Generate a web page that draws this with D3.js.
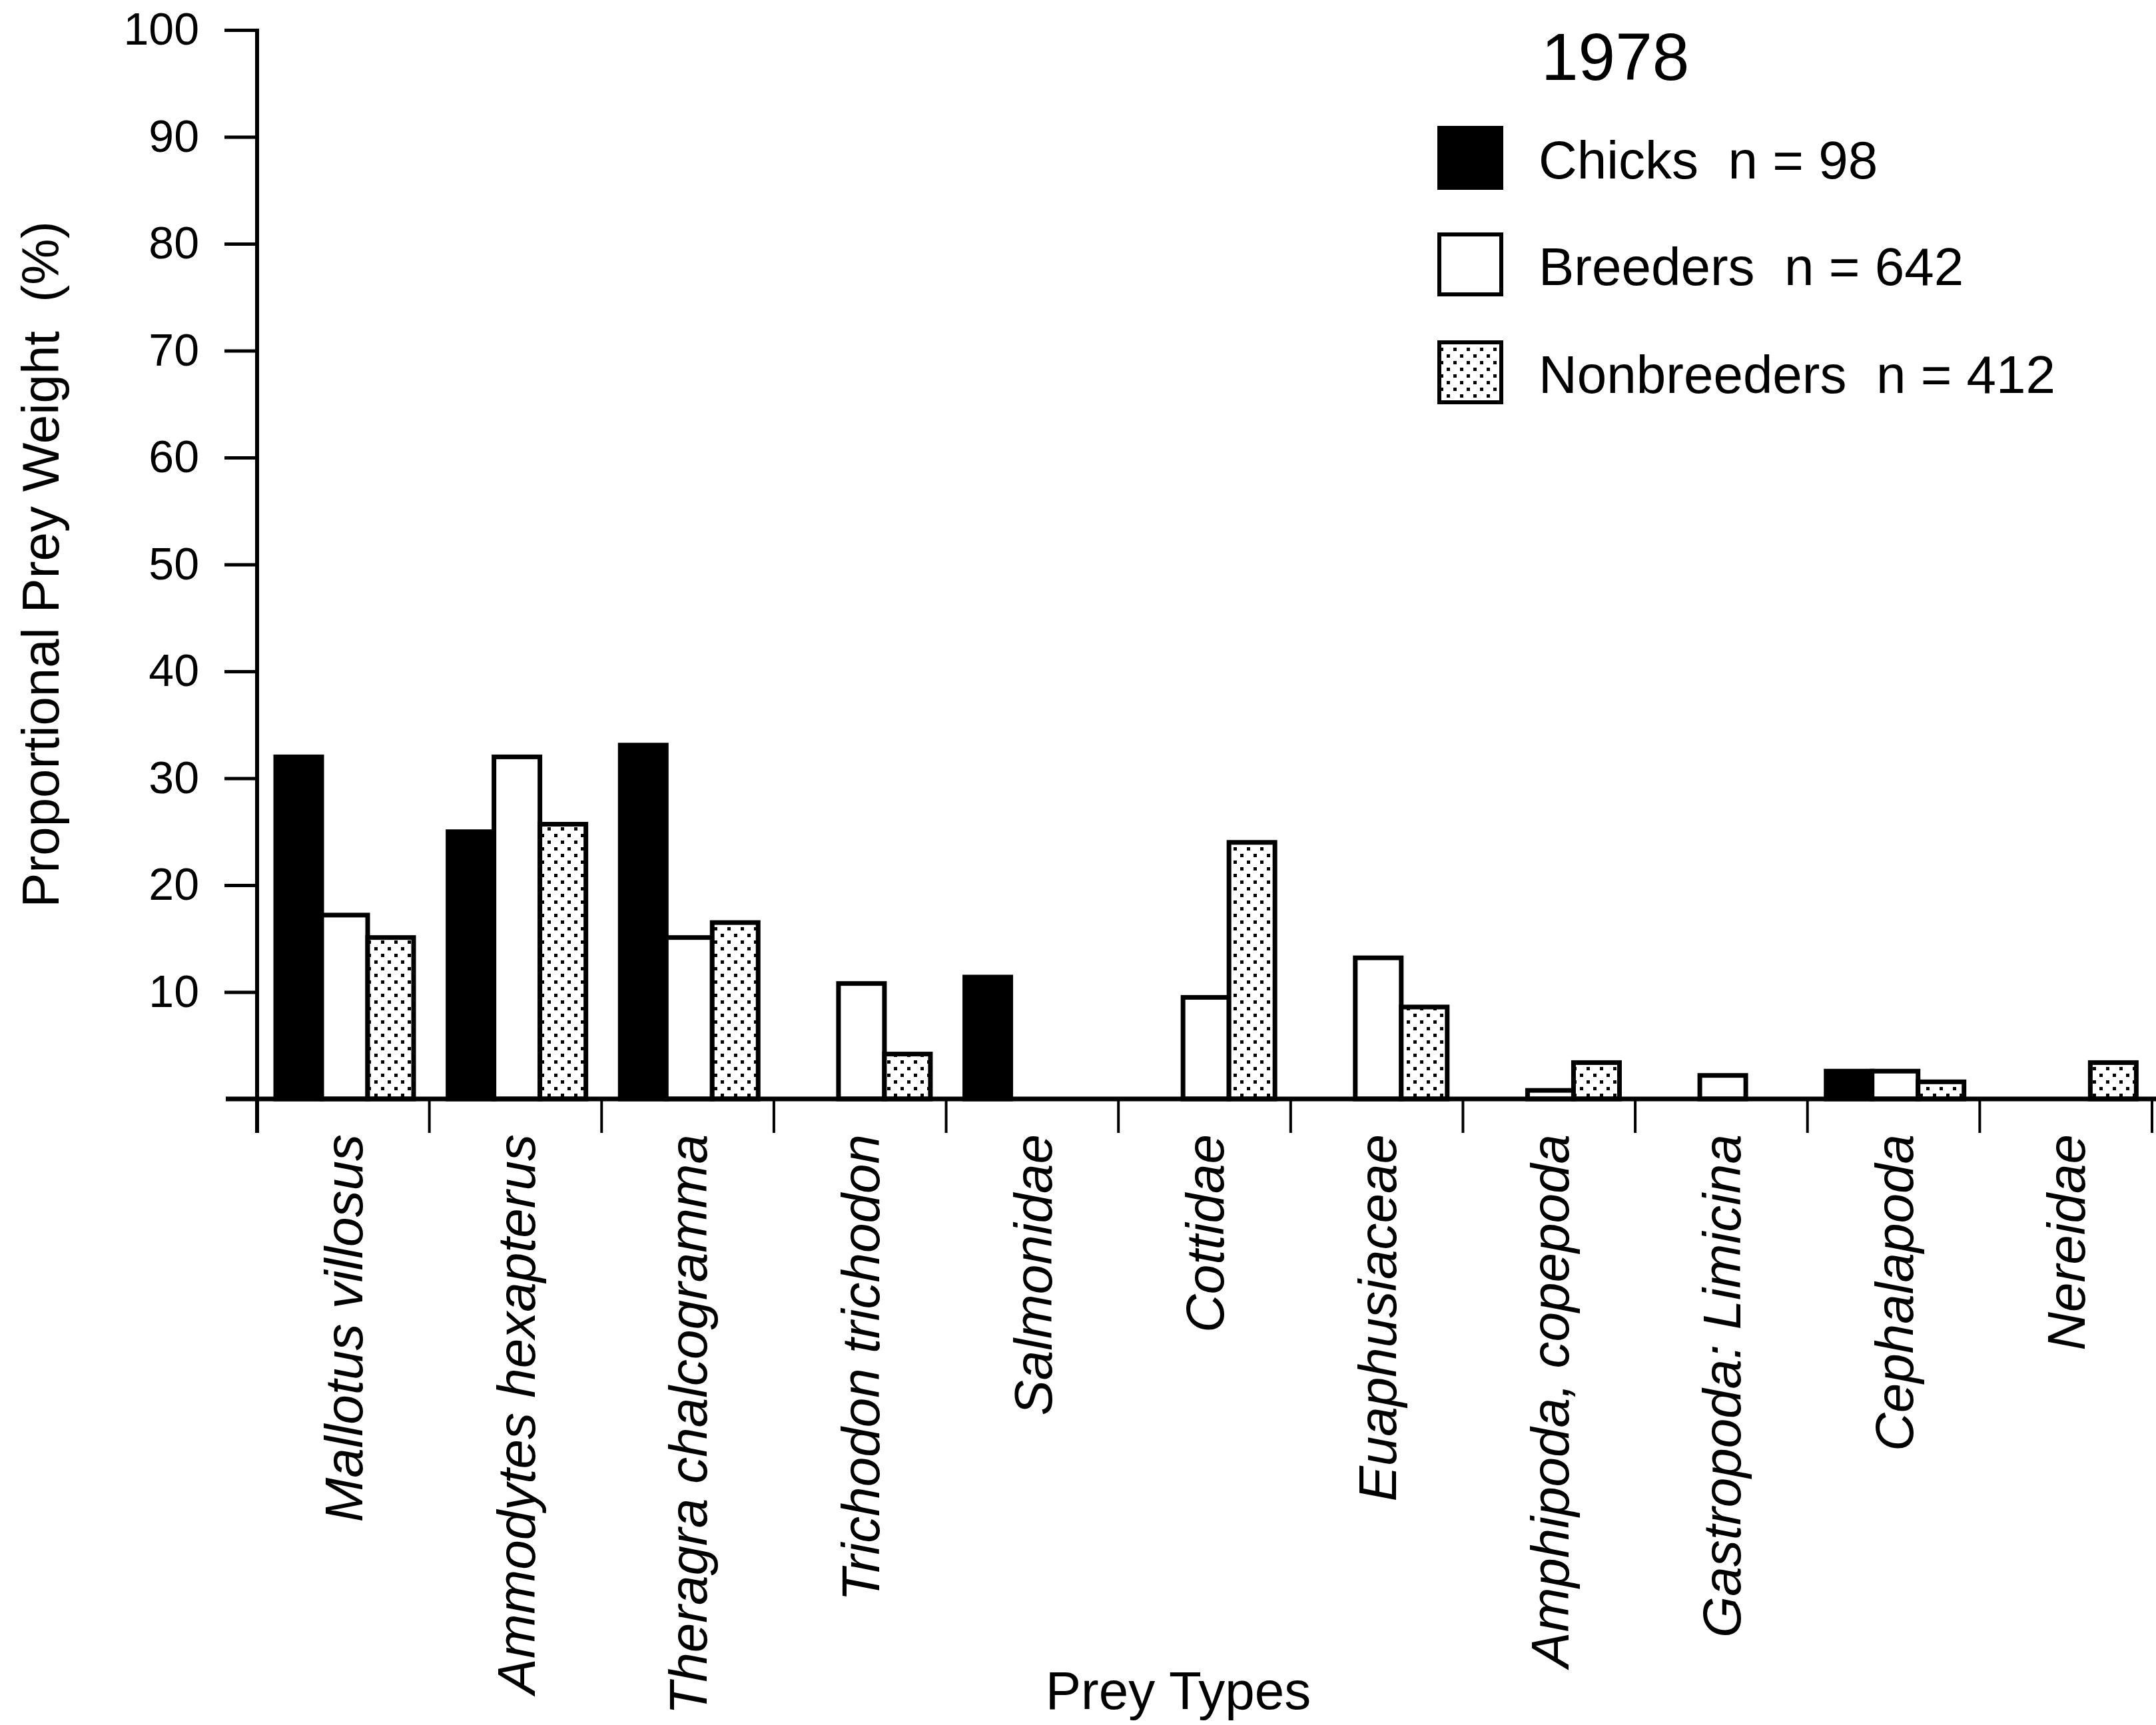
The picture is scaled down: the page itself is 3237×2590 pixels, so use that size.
<!DOCTYPE html>
<html lang="en">
<head>
<meta charset="UTF-8">
<title>Prey weight 1978</title>
<script src="https://cdn.jsdelivr.net/npm/d3@7/dist/d3.min.js"></script>
<style>
    body { margin: 0; background: #fff; }
    text { font-family: "Liberation Sans", Arial, Helvetica, sans-serif; fill: #000; }
</style>
</head>
<body>
<svg id="chart"></svg>
<script>
    const categories = ["Mallotus villosus", "Ammodytes hexapterus", "Theragra chalcogramma",
        "Trichodon trichodon", "Salmonidae", "Cottidae", "Euaphusiaceae", "Amphipoda, copepoda",
        "Gastropoda: Limicina", "Cephalapoda", "Nereidae"];
    const seriesNames = ["Chicks", "Breeders", "Nonbreeders"];
    const seriesCounts = [98, 642, 412];
    const chicks = [32, 25, 33.1, 0, 11.4, 0, 0, 0, 0, 2.6, 0];
    const breeders = [17.2, 32, 15.1, 10.8, 0, 9.5, 13.2, 0.8, 2.2, 2.6, 0];
    const nonbreeders = [15.1, 25.7, 16.5, 4.2, 0, 24, 8.6, 3.4, 0, 1.6, 3.4];
    const yTicks = [10, 20, 30, 40, 50, 60, 70, 80, 90, 100];
    const yearLabel = "1978";

    const W = 3237, H = 2590;
    const svg = d3.select("#chart").attr("width", W).attr("height", H);

    // stipple pattern for nonbreeders
    const defs = svg.append("defs");
    const pat = defs.append("pattern").attr("id", "dots")
        .attr("patternUnits", "userSpaceOnUse").attr("width", 20).attr("height", 20);
    pat.append("rect").attr("width", 20).attr("height", 20).attr("fill", "#fff");
    pat.append("rect").attr("x", 2).attr("y", 2).attr("width", 5).attr("height", 5).attr("fill", "#000");
    pat.append("rect").attr("x", 12).attr("y", 12).attr("width", 5).attr("height", 5).attr("fill", "#000");

    const fills = ["#000", "#fff", "url(#dots)"];
    const values = [chicks, breeders, nonbreeders];

    const x = d3.scaleBand().domain(categories).range([386, 3231]).padding(0);
    const xs = d3.scaleBand().domain(seriesNames).range([28, 28 + 207]).padding(0);
    const y = d3.scaleLinear().domain([0, 100]).range([1650, 45]);

    // y axis
    const yAxis = svg.append("g").attr("transform", "translate(386,0)")
        .call(d3.axisLeft(y).tickValues(yTicks).tickSize(49).tickPadding(38));
    yAxis.select(".domain").remove();
    yAxis.selectAll(".tick line").attr("stroke", "#000").attr("stroke-width", 5);
    yAxis.selectAll(".tick text").attr("font-size", 68)
        .style("font-family", "'Liberation Sans', Arial, sans-serif");
    svg.append("line").attr("x1", 386).attr("x2", 386)
        .attr("y1", y(100) - 2).attr("y2", y(0) + 51)
        .attr("stroke", "#000").attr("stroke-width", 6);

    svg.append("text")
        .attr("transform", "translate(88," + (y(0) + y(100)) / 2 + ") rotate(-90)")
        .attr("text-anchor", "middle").attr("font-size", 78)
        .style("white-space", "pre")
        .text("Proportional Prey Weight  (%)");

    // bars
    const rows = [];
    categories.forEach(function (c, ci) {
        seriesNames.forEach(function (s, si) {
            if (values[si][ci] > 0) rows.push({cat: c, s: s, si: si, v: values[si][ci]});
        });
    });
    svg.append("g").selectAll("rect").data(rows).enter().append("rect")
        .attr("x", d => x(d.cat) + xs(d.s))
        .attr("y", d => y(d.v))
        .attr("width", xs.bandwidth())
        .attr("height", d => y(0) - y(d.v))
        .attr("fill", d => fills[d.si])
        .attr("stroke", "#000")
        .attr("stroke-width", 7);

    // baseline and category ticks
    svg.append("line").attr("x1", 339).attr("x2", W)
        .attr("y1", y(0)).attr("y2", y(0))
        .attr("stroke", "#000").attr("stroke-width", 7);
    const edges = categories.map(c => x(c)).concat([x.range()[1]]);
    svg.append("g").selectAll("line").data(edges.slice(1)).enter().append("line")
        .attr("x1", d => d).attr("x2", d => d)
        .attr("y1", y(0)).attr("y2", y(0) + 51)
        .attr("stroke", "#000").attr("stroke-width", 4);

    // category labels
    svg.append("g").selectAll("text").data(categories).enter().append("text")
        .attr("transform", d => "translate(" + (x(d) + x.bandwidth() / 2) + "," + (y(0) + 53) + ") rotate(-90)")
        .attr("text-anchor", "end")
        .attr("dy", "0.36em")
        .attr("font-size", 80)
        .attr("font-style", "italic")
        .text(d => d);

    svg.append("text").attr("x", 1769).attr("y", 2566)
        .attr("text-anchor", "middle").attr("font-size", 80)
        .text("Prey Types");

    // legend
    const lg = svg.append("g");
    lg.append("text").attr("x", 2314).attr("y", 120).attr("font-size", 100).text(yearLabel);
    const legRows = [192, 352, 514];
    seriesNames.forEach(function (s, i) {
        lg.append("rect").attr("x", 2161).attr("y", legRows[i])
            .attr("width", 93).attr("height", 90)
            .attr("fill", fills[i]).attr("stroke", "#000").attr("stroke-width", 6);
        lg.append("text").attr("x", 2310).attr("y", legRows[i] + 76)
            .attr("font-size", 80)
            .style("white-space", "pre")
            .text(s + "  n = " + seriesCounts[i]);
    });
</script>
</body>
</html>
